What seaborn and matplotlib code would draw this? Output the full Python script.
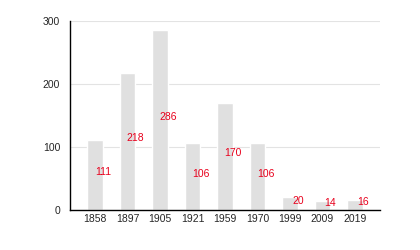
import matplotlib
matplotlib.use("Agg")
import matplotlib.pyplot as plt
import seaborn as sns
import pandas as pd

years = ["1858", "1897", "1905", "1921", "1959", "1970", "1999", "2009", "2019"]
values = [111, 218, 286, 106, 170, 106, 20, 14, 16]
yticks = [0, 100, 200, 300]

sns.set_theme(style="white")
plt.rcParams['font.family'] = ['Liberation Sans', 'DejaVu Sans']

df = pd.DataFrame({"year": years, "value": values})

fig = plt.figure(figsize=(4.2, 2.5), dpi=100)
ax = fig.add_axes([70/420, 40/250, 310/420, 189/250])

sns.barplot(data=df, x="year", y="value", color="#e0e0e0", saturation=1,
            width=0.49, ax=ax, zorder=2)

ax.set_xlim(-0.77, len(years) - 1 + 0.77)
ax.set_ylim(0, 300)
ax.set_yticks(yticks)
ax.set_xlabel("")
ax.set_ylabel("")
ax.yaxis.grid(True, color="#e3e3e3", linewidth=0.8, zorder=0)
ax.set_axisbelow(True)
for s in ["top", "right"]:
    ax.spines[s].set_visible(False)
for s in ["left", "bottom"]:
    ax.spines[s].set_color("black")
    ax.spines[s].set_linewidth(1.0)
ax.tick_params(axis="y", length=5, width=1, color="black", labelsize=7.5, pad=2)
ax.tick_params(axis="x", length=0, labelsize=7.5, pad=3)

for i, v in enumerate(values):
    ax.text(i + 0.245, v / 2, str(v), color="#e8001c", fontsize=7.5,
            ha="center", va="baseline", zorder=3)

fig.savefig("out.png", dpi=100)
